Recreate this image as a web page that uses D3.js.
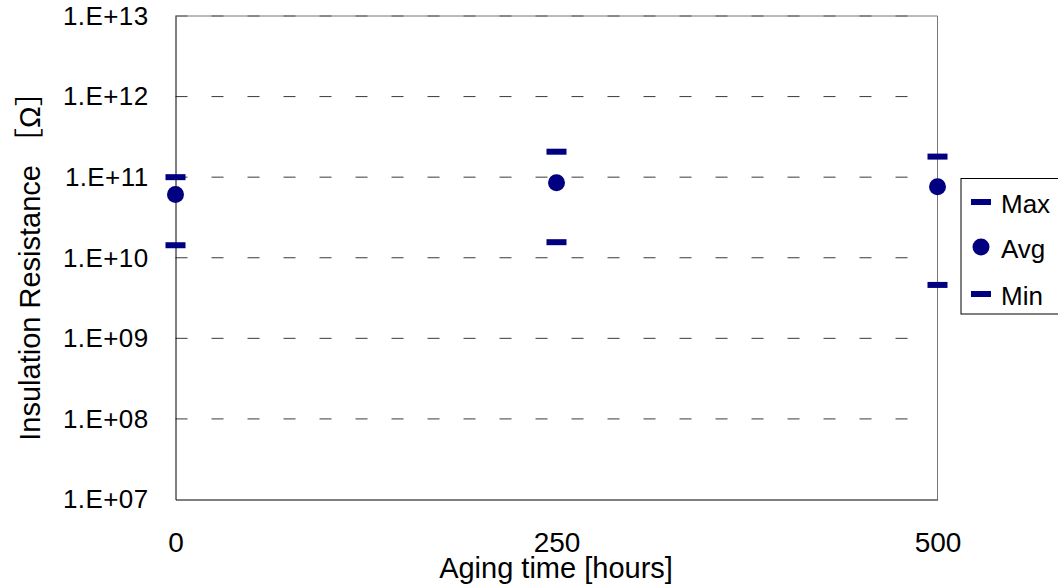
<!DOCTYPE html>
<html>
<head>
<meta charset="utf-8">
<script src="https://cdn.jsdelivr.net/npm/d3@7"></script>
<style>
    body { margin: 0; background: #fff; }
    svg { display: block; font-family: "Liberation Sans", Arial, "Noto Sans CJK JP", sans-serif; }
</style>
</head>
<body>
<div id="chart"></div>
<script>
const hours = [0, 250, 500];
const maxVals = [1.0e11, 2.07e11, 1.8e11];
const avgVals = [6.1e10, 8.5e10, 7.6e10];
const minVals = [1.43e10, 1.56e10, 4.6e9];

const yTicks = [1e7, 1e8, 1e9, 1e10, 1e11, 1e12, 1e13];
const yTickLabels = ["1.E+07", "1.E+08", "1.E+09", "1.E+10", "1.E+11", "1.E+12", "1.E+13"];
const xTicks = [0, 250, 500];

const legendItems = ["Max", "Avg", "Min"];
const navy = "#000080";

const svg = d3.select("#chart").append("svg")
    .attr("width", 1058)
    .attr("height", 587);

const x = d3.scaleLinear().domain([0, 500]).range([175.5, 937.5]);
const y = d3.scaleLog().domain([1e7, 1e13]).range([499.5, 16]);

// dashed gridlines
svg.append("g").selectAll("line")
    .data(yTicks.slice(1))
    .enter().append("line")
    .attr("x1", x(0)).attr("x2", x(500) - 20)
    .attr("y1", d => y(d)).attr("y2", d => y(d))
    .attr("stroke", "#3a3a3a")
    .attr("stroke-width", 1)
    .attr("stroke-dasharray", "12,24");

// plot frame
svg.append("line").attr("x1", x(0)).attr("x2", x(500)).attr("y1", y(1e13)).attr("y2", y(1e13))
    .attr("stroke", "#777");
svg.append("line").attr("x1", x(500)).attr("x2", x(500)).attr("y1", y(1e13)).attr("y2", y(1e7))
    .attr("stroke", "#777");

// y axis
const yAxis = svg.append("g")
    .attr("transform", `translate(${x(0)},0)`)
    .call(d3.axisLeft(y).tickValues(yTicks).tickSize(0).tickPadding(27)
        .tickFormat((d, i) => yTickLabels[i]));
yAxis.select(".domain").attr("stroke", "#000");
yAxis.selectAll("text")
    .attr("font-size", 26)
    .attr("letter-spacing", 0.4)
    .attr("font-family", "'Liberation Sans', Arial, sans-serif")
    .attr("fill", "#000");

// x axis
const xAxis = svg.append("g")
    .attr("transform", `translate(0,${y(1e7)})`)
    .call(d3.axisBottom(x).tickValues(xTicks).tickSize(0).tickPadding(33)
        .tickFormat(d3.format("d")));
xAxis.select(".domain").attr("stroke", "#000");
xAxis.selectAll("text")
    .attr("font-size", 28)
    .attr("font-family", "'Liberation Sans', Arial, sans-serif")
    .attr("fill", "#000");

// axis titles
svg.append("text")
    .attr("x", 556)
    .attr("y", 578)
    .attr("text-anchor", "middle")
    .attr("font-size", 29)
    .text("Aging time [hours]");

svg.append("text")
    .attr("transform", "translate(40,259) rotate(-90)")
    .attr("text-anchor", "middle")
    .attr("font-size", 29)
    .text("Insulation Resistance ［Ω］");

// markers
const g = svg.append("g");
function dashes(vals) {
    g.selectAll(null)
        .data(hours.map((h, i) => ({ h, v: vals[i] })))
        .enter().append("rect")
        .attr("x", d => x(d.h) - 10)
        .attr("y", d => y(d.v) - 3)
        .attr("width", 20)
        .attr("height", 6)
        .attr("fill", navy);
}
dashes(maxVals);
dashes(minVals);

g.selectAll(null)
    .data(hours.map((h, i) => ({ h, v: avgVals[i] })))
    .enter().append("circle")
    .attr("cx", d => x(d.h))
    .attr("cy", d => y(d.v))
    .attr("r", 8.5)
    .attr("fill", navy);

// legend
const legend = svg.append("g");
legend.append("rect")
    .attr("x", 961).attr("y", 178.5)
    .attr("width", 110).attr("height", 135.5)
    .attr("fill", "#fff")
    .attr("stroke", "#000");

const legendY = [202, 247, 294];
legendItems.forEach((name, i) => {
    if (name === "Avg") {
        legend.append("circle").attr("cx", 981).attr("cy", legendY[i]).attr("r", 8.5).attr("fill", navy);
    } else {
        legend.append("rect").attr("x", 971).attr("y", legendY[i] - 3).attr("width", 20).attr("height", 6).attr("fill", navy);
    }
    legend.append("text")
        .attr("x", 1001)
        .attr("y", legendY[i] + 11)
        .attr("font-size", 26)
        .text(name);
});
</script>
</body>
</html>
